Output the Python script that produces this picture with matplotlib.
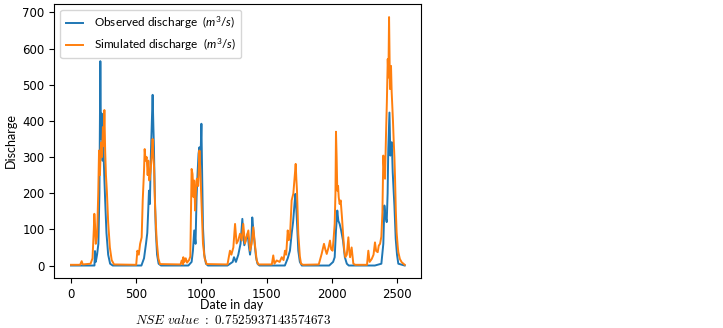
import numpy as np
import matplotlib.pyplot as plt
from matplotlib.font_manager import FontProperties

# observed discharge (m3/s)
obs_day = [0, 180, 184, 190, 200, 210, 218, 225, 230, 236, 242, 248, 255, 262, 272, 285, 300, 320,
           540, 560, 575, 585, 592, 598, 605, 612, 618, 626, 632, 636, 642, 650, 660, 672, 690,
           900, 925, 935, 945, 955, 963, 970, 978, 985, 992, 1000, 1006, 1012, 1022, 1035, 1050,
           1200, 1240, 1250, 1265, 1283, 1300, 1314, 1322, 1329, 1340, 1355, 1365, 1373, 1382, 1390,
           1398, 1406, 1414, 1419, 1430, 1445,
           1640, 1662, 1679, 1692, 1703, 1712, 1720, 1726, 1733, 1743, 1755, 1770,
           1980, 2010, 2022, 2032, 2042, 2050, 2060, 2070, 2086, 2100, 2115, 2130,
           2330, 2380, 2395, 2403, 2410, 2421, 2428, 2433, 2442, 2449, 2455, 2460, 2467, 2475, 2480,
           2490, 2500, 2510, 2559]
obs_q = [0, 0, 40, 10, 30, 60, 200, 565, 350, 420, 290, 330, 250, 180, 90, 30, 5, 0,
         0, 20, 60, 90, 150, 207, 170, 300, 373, 472, 380, 327, 207, 100, 30, 5, 0,
         0, 10, 41, 97, 60, 189, 250, 309, 327, 280, 392, 244, 106, 30, 5, 0,
         0, 10, 23, 10, 30, 60, 129, 80, 56, 70, 88, 50, 30, 60, 133,
         100, 69, 40, 23, 5, 0,
         0, 20, 41, 88, 120, 161, 198, 170, 120, 41, 10, 0,
         0, 10, 23, 97, 152, 124, 115, 100, 69, 23, 5, 0,
         0, 5, 60, 166, 140, 120, 200, 322, 423, 304, 330, 341, 258, 200, 166,
         74, 30, 5, 0]

# simulated discharge (m3/s)
sim_day = [0, 70, 82, 90, 150, 165, 175, 179, 184, 190, 200, 209, 215, 222, 230, 238, 245, 250, 256,
           262, 268, 275, 285, 298, 312, 330, 500,
           509, 520, 530, 542, 550, 560, 565, 572, 580, 588, 593, 601, 610, 618, 626, 632, 637, 645,
           657, 670, 682, 840, 849, 860,
           861, 870, 880, 890, 905, 915, 925, 932, 940, 945, 952, 958, 965, 975, 985, 992, 998, 1005,
           1012, 1025, 1040, 1200,
           1219, 1230, 1245, 1258, 1270, 1283, 1296, 1309, 1321, 1334, 1347, 1360, 1373, 1385, 1398,
           1411, 1424, 1437, 1540, 1551, 1560,
           1577, 1600, 1616, 1630, 1641, 1650, 1662, 1670, 1679, 1692, 1705, 1712, 1718, 1723, 1728,
           1733, 1743, 1755, 1764, 1780,
           1900, 1922, 1940, 1950, 1961, 1975, 1986, 1995, 2006, 2015, 2022, 2028, 2032, 2037, 2042,
           2048, 2053, 2060, 2068, 2078, 2088, 2096, 2104, 2115, 2127, 2134, 2140, 2152, 2165, 2180,
           2270, 2280, 2290, 2306, 2320, 2331, 2340, 2352, 2360, 2370, 2380, 2388, 2395, 2402, 2408,
           2416, 2422, 2429, 2434, 2439, 2443, 2446, 2450, 2454, 2459, 2464, 2469, 2474, 2480, 2485,
           2491, 2497, 2505, 2510, 2522, 2536, 2559]
sim_q = [2, 2, 12, 3, 5, 20, 100, 143, 115, 60, 80, 200, 318, 250, 340, 300, 383, 330, 430,
         318, 250, 207, 120, 50, 15, 3, 2,
         41, 30, 60, 78, 180, 262, 322, 290, 300, 250, 290, 235, 260, 300, 350, 300, 272, 160,
         69, 20, 4, 3, 14, 3,
         23, 10, 20, 8, 15, 25, 267, 253, 189, 235, 152, 207, 240, 220, 318, 260, 199, 120,
         61, 20, 4, 3,
         41, 30, 50, 115, 61, 70, 88, 69, 115, 61, 80, 97, 41, 60, 106,
         56, 14, 3, 3, 28, 5,
         14, 10, 23, 15, 41, 30, 97, 70, 78, 180, 199, 230, 258, 281, 240,
         207, 88, 25, 5, 2,
         3, 32, 60, 45, 32, 50, 69, 45, 41, 80, 115, 200, 370, 300, 207,
         220, 189, 170, 180, 133, 78, 40, 23, 30, 78, 40, 23, 50, 5, 2,
         2, 41, 10, 18, 30, 64, 40, 37, 55, 60, 80, 147, 304, 260, 240,
         368, 450, 571, 520, 687, 560, 488, 520, 552, 480, 442, 400, 350, 300, 240,
         150, 92, 55, 37, 18, 9, 2]

nse_value = "0.7525937143574673"

plt.rcParams['mathtext.fontset'] = 'custom'
plt.rcParams['mathtext.it'] = 'Lato:italic'
plt.rcParams['mathtext.rm'] = 'Lato'

W, H = 723, 328
fig, ax = plt.subplots(figsize=(W/100, H/100), dpi=100)
fig.subplots_adjust(left=54.3/W, right=421.4/W, top=1-3.7/H, bottom=1-278/H)

ax.plot(obs_day, obs_q, color='#1f77b4', lw=1.4, label=r'Observed discharge  $(m^3/s)$')
ax.plot(sim_day, sim_q, color='#ff7f0e', lw=1.4, label=r'Simulated discharge  $(m^3/s)$')

ax.set_xlim(-128, 2687)
ax.set_ylim(-34.5, 724)
ax.set_xticks([0, 500, 1000, 1500, 2000, 2500])
ax.set_yticks(np.arange(0, 701, 100))
ax.tick_params(labelsize=8.5, length=3.5)
for lab in ax.get_xticklabels() + ax.get_yticklabels():
    lab.set_fontfamily('DejaVu Sans')

ax.set_xlabel('Date in day', fontfamily='Lato', fontsize=9)
ax.xaxis.set_label_coords((232 - 54.3) / (421.4 - 54.3), -0.078)
ax.set_ylabel('Discharge', fontfamily='Lato', fontsize=9)

ax.legend(loc='upper left', prop=FontProperties(family='Lato', size=8.5), borderpad=0.45,
          handlelength=1.5, handletextpad=0.9, labelspacing=0.45, framealpha=0.8)

fig.text(233/W, 1 - 320/H, r'$\mathit{NSE\ value\ :\ ' + nse_value + '}$',
         ha='center', va='center', fontsize=9.5, math_fontfamily='cm')

fig.savefig('out.png', dpi=100)
